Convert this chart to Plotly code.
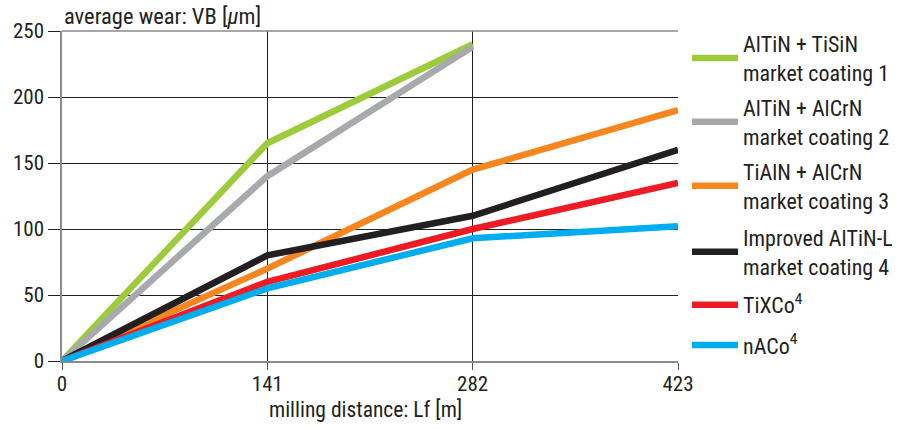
import plotly.graph_objects as go

distance = [0, 141, 282, 423]
series_names = [
    "AlTiN + TiSiN<br>market coating 1",
    "AlTiN + AlCrN<br>market coating 2",
    "TiAlN + AlCrN<br>market coating 3",
    "Improved AlTiN-L<br>market coating 4",
    "TiXCo<sup>4</sup>",
    "nACo<sup>4</sup>",
]
coating1 = [0, 165, 240]
coating2 = [0, 140, 238]
coating3 = [0, 70, 145, 190]
coating4 = [0, 80, 110, 160]
tixco = [0, 60, 100, 135]
naco = [0, 55, 93, 102]
y_ticks = [0, 50, 100, 150, 200, 250]
x_ticks = [0, 141, 282, 423]

colors = ["#9ccb3b", "#a7a9ac", "#f7861f", "#231f20", "#ed1c24", "#00aeef"]
values = [coating1, coating2, coating3, coating4, tixco, naco]
legend_y = [0.917, 0.724, 0.530, 0.330, 0.170, 0.048]

FONT = "Roboto Condensed, Liberation Sans Narrow, sans-serif"
TXT = "#231f20"

fig = go.Figure()
legend_ids = ["legend"] + [f"legend{i}" for i in range(2, 7)]
for i, (name, vals, col) in enumerate(zip(series_names, values, colors)):
    fig.add_trace(go.Scatter(
        x=distance[:len(vals)], y=vals, mode="lines", name=name,
        line=dict(color=col, width=6.5), legend=legend_ids[i],
    ))

legend_style = dict(font=dict(size=22, family=FONT, color=TXT), itemwidth=46,
                    bgcolor="rgba(0,0,0,0)", xanchor="left", yanchor="middle",
                    x=1.0146)
layout_legends = {lid: dict(legend_style, y=ly) for lid, ly in zip(legend_ids, legend_y)}

fig.update_layout(
    width=908, height=429,
    margin=dict(l=62, r=230, t=31, b=68, autoexpand=False),
    paper_bgcolor="white", plot_bgcolor="white",
    font=dict(family=FONT, color=TXT, size=20),
    showlegend=True,
    xaxis=dict(range=[0, 423], tickvals=x_ticks, ticktext=[str(v) for v in x_ticks],
               showgrid=True, gridcolor="#231f20", gridwidth=1,
               showline=True, linecolor="#8a8a8a", linewidth=1.5,
               ticks="outside", ticklen=7, tickcolor="#555", zeroline=False,
               tickfont=dict(size=21), fixedrange=True, ticklabelstandoff=-4,
               automargin=False),
    yaxis=dict(range=[0, 250], tickvals=y_ticks,
               showgrid=True, gridcolor="#231f20", gridwidth=1,
               showline=True, linecolor="#8a8a8a", linewidth=1.5,
               ticks="outside", ticklen=12, tickcolor="#231f20", zeroline=False,
               tickfont=dict(size=21), fixedrange=True, automargin=False),
    annotations=[
        dict(text="average wear: VB [<i>μ</i>m]", xref="paper", yref="paper",
             x=0.0, y=1.0, xanchor="left", yanchor="bottom", showarrow=False,
             font=dict(size=22.5, family=FONT, color=TXT), yshift=0),
        dict(text="milling distance: Lf [m]", xref="paper", yref="paper",
             x=0.492, y=-0.148, xanchor="center", yanchor="middle", showarrow=False,
             font=dict(size=21.5, family=FONT, color=TXT)),
    ],
    shapes=[dict(type="line", xref="paper", yref="paper", x0=0, x1=1, y0=1, y1=1,
                 line=dict(color="#8a8a8a", width=1.5))],
    **layout_legends,
)

fig.write_html("out.html", config={"displayModeBar": False},
               post_script="document.body.style.margin='0';document.body.style.overflow='hidden';")
